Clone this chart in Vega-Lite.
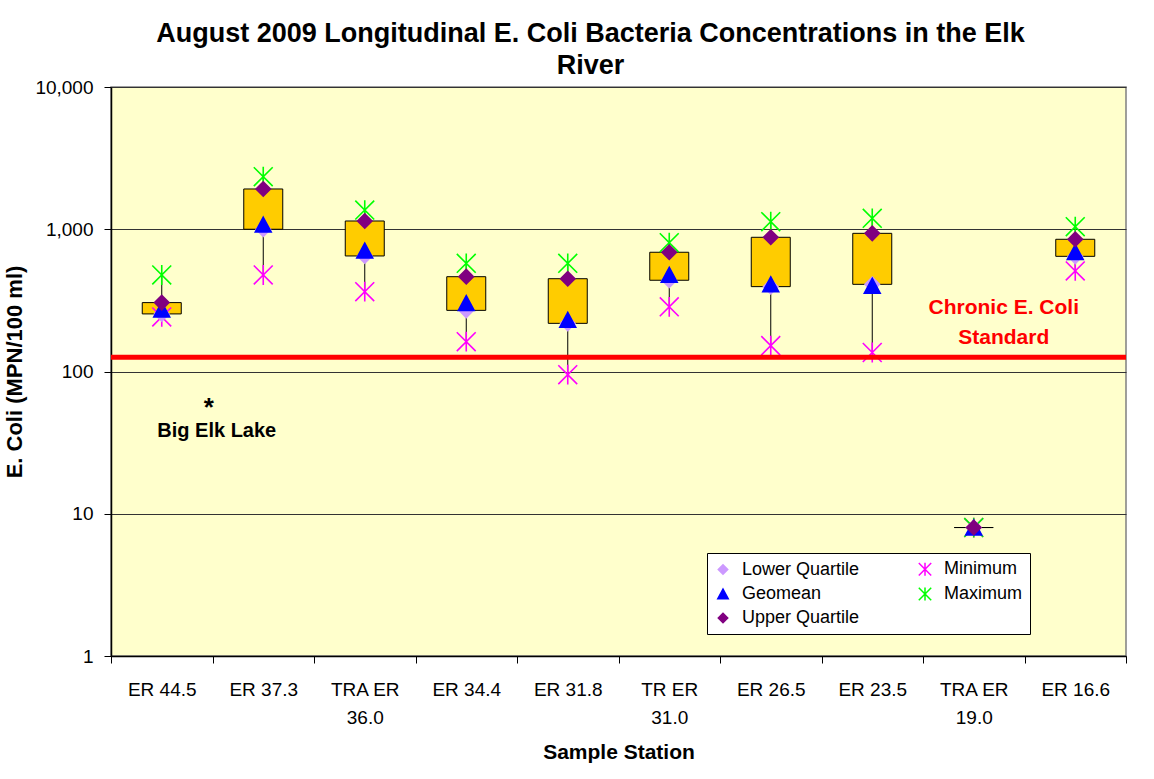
{
  "$schema": "https://vega.github.io/schema/vega-lite/v6.json",
  "width": 1015,
  "height": 569,
  "autosize": {"type": "none"},
  "padding": {"left": 111, "top": 87, "right": 28, "bottom": 123},
  "background": "white",
  "title": {
    "text": ["August 2009 Longitudinal E. Coli Bacteria Concentrations in the Elk", "River"],
    "font": "Liberation Sans",
    "fontSize": 27,
    "fontWeight": "bold",
    "color": "black",
    "anchor": "middle",
    "frame": "group",
    "dx": -28,
    "offset": -2,
    "lineHeight": 32
  },
  "config": {
    "font": "Liberation Sans",
    "view": {"fill": "#FFFFCC", "stroke": "#808080", "strokeWidth": 1.5},
    "axis": {
      "labelFont": "Liberation Sans",
      "labelFontSize": 19,
      "labelColor": "black",
      "titleFont": "Liberation Sans",
      "titleFontSize": 21,
      "titleFontWeight": "bold",
      "titleColor": "black",
      "domainColor": "black",
      "tickColor": "black"
    }
  },
  "datasets": {
    "stats": [
      {"station": "ER 44.5", "Minimum": 242, "Lower Quartile": 254, "Geomean": 272, "Upper Quartile": 305, "Maximum": 477},
      {"station": "ER 37.3", "Minimum": 477, "Lower Quartile": 1000, "Geomean": 1077, "Upper Quartile": 1919, "Maximum": 2340},
      {"station": "TRA ER 36.0", "Minimum": 364, "Lower Quartile": 649, "Geomean": 709, "Upper Quartile": 1143, "Maximum": 1365},
      {"station": "ER 34.4", "Minimum": 162, "Lower Quartile": 269, "Geomean": 303, "Upper Quartile": 464, "Maximum": 576},
      {"station": "ER 31.8", "Minimum": 95, "Lower Quartile": 218, "Geomean": 231, "Upper Quartile": 449, "Maximum": 576},
      {"station": "TR ER 31.0", "Minimum": 285, "Lower Quartile": 438, "Geomean": 479, "Upper Quartile": 689, "Maximum": 805},
      {"station": "ER 26.5", "Minimum": 152, "Lower Quartile": 395, "Geomean": 410, "Upper Quartile": 878, "Maximum": 1130},
      {"station": "ER 23.5", "Minimum": 136, "Lower Quartile": 410, "Geomean": 400, "Upper Quartile": 936, "Maximum": 1194},
      {"station": "TRA ER 19.0", "Minimum": 8, "Lower Quartile": 8, "Geomean": 8, "Upper Quartile": 8, "Maximum": 8},
      {"station": "ER 16.6", "Minimum": 509, "Lower Quartile": 645, "Geomean": 692, "Upper Quartile": 850, "Maximum": 1042}
    ],
    "standard": [{"std": 126}],
    "stdlabel": [{"station": "TRA ER 19.0", "value": 254, "label": "Chronic E. Coli\nStandard"}],
    "lakestar": [{"station": "ER 44.5", "value": 49, "label": "*"}],
    "lakelabel": [{"station": "ER 44.5", "value": 34.8, "label": "Big Elk Lake"}]
  },
  "layer": [
    {
      "data": {"name": "stats"},
      "mark": {"type": "rule", "color": "black", "strokeWidth": 1},
      "encoding": {
        "x": {
          "field": "station", "type": "nominal", "title": "Sample Station",
          "scale": {"type": "band", "domain": ["ER 44.5","ER 37.3","TRA ER 36.0","ER 34.4","ER 31.8","TR ER 31.0","ER 26.5","ER 23.5","TRA ER 19.0","ER 16.6"], "paddingInner": 0, "paddingOuter": 0},
          "axis": {
            "title": "Sample Station",
            "labelAngle": 0,
            "tickBand": "extent",
            "tickSize": 7,
            "labelPadding": 17,
            "labelLineHeight": 28,
            "titlePadding": 14,
            "domainWidth": 1.5,
            "labelExpr": "indexof(datum.label, 'TR') == 0 ? [slice(datum.label, 0, lastindexof(datum.label, ' ')), slice(datum.label, lastindexof(datum.label, ' ') + 1)] : datum.label"
          }
        },
        "y": {
          "field": "Minimum", "type": "quantitative", "title": "E. Coli (MPN/100 ml)",
          "scale": {"type": "log", "domain": [1, 10000], "nice": false},
          "axis": {
            "title": "E. Coli (MPN/100 ml)",
            "titleFontSize": 22,
            "values": [1, 10, 100, 1000, 10000],
            "format": ",",
            "tickSize": 7,
            "labelPadding": 11,
            "grid": true,
            "gridColor": "#333333",
            "gridWidth": 1,
            "titlePadding": 8,
            "domainWidth": 1.5
          }
        },
        "y2": {"field": "Maximum"}
      }
    },
    {
      "data": {"name": "stats"},
      "mark": {"type": "bar", "size": 39, "fill": "#FFCC00", "stroke": "black", "strokeWidth": 1},
      "encoding": {
        "x": {"field": "station", "type": "nominal", "title": "Sample Station", "scale": {"type": "band", "domain": ["ER 44.5","ER 37.3","TRA ER 36.0","ER 34.4","ER 31.8","TR ER 31.0","ER 26.5","ER 23.5","TRA ER 19.0","ER 16.6"], "paddingInner": 0, "paddingOuter": 0}},
        "y": {"field": "Lower Quartile", "type": "quantitative", "title": "E. Coli (MPN/100 ml)", "scale": {"type": "log", "domain": [1, 10000], "nice": false}},
        "y2": {"field": "Upper Quartile"}
      }
    },
    {
      "data": {"name": "stats"},
      "transform": [{"fold": ["Minimum", "Maximum", "Lower Quartile", "Geomean", "Upper Quartile"], "as": ["series", "value"]}],
      "mark": {"type": "point", "filled": true, "size": 324, "strokeWidth": 1.6, "opacity": 1},
      "encoding": {
        "x": {"field": "station", "type": "nominal", "title": "Sample Station", "scale": {"type": "band", "domain": ["ER 44.5","ER 37.3","TRA ER 36.0","ER 34.4","ER 31.8","TR ER 31.0","ER 26.5","ER 23.5","TRA ER 19.0","ER 16.6"], "paddingInner": 0, "paddingOuter": 0}},
        "y": {"field": "value", "type": "quantitative", "title": "E. Coli (MPN/100 ml)", "scale": {"type": "log", "domain": [1, 10000], "nice": false}},
        "shape": {
          "field": "series", "type": "nominal",
          "scale": {
            "domain": ["Lower Quartile", "Geomean", "Upper Quartile", "Minimum", "Maximum"],
            "range": [
              "M-0.8,0L0,-0.8L0.8,0L0,0.8Z",
              "M0,-0.82L0.88,0.82L-0.88,0.82Z",
              "M-0.8,0L0,-0.8L0.8,0L0,0.8Z",
              "M-1.05,-1.05L1.05,1.05M1.05,-1.05L-1.05,1.05M0,-1.1L0,1.1",
              "M-1.05,-1.05L1.05,1.05M1.05,-1.05L-1.05,1.05M0,-1.1L0,1.1"
            ]
          },
          "legend": {"title": null, "orient": "none", "legendX": 596, "legendY": 466, "columns": 2, "columnPadding": 55, "rowPadding": 5, "padding": 7, "fillColor": "white", "strokeColor": "black", "labelFont": "Liberation Sans", "labelFontSize": 18, "labelColor": "black", "labelOffset": 10, "symbolSize": 140, "symbolStrokeWidth": 1.5, "labelExpr": "datum.label == 'Maximum' ? 'Maximum\u00a0\u00a0\u00a0\u00a0\u00a0\u00a0\u00a0\u00a0\u00a0\u00a0\u00a0' : datum.label"}
        },
        "fill": {
          "field": "series", "type": "nominal",
          "scale": {"domain": ["Lower Quartile", "Geomean", "Upper Quartile", "Minimum", "Maximum"], "range": ["#CC99FF", "#0000FF", "#800080", "#FF00FF", "#00FF00"]},
          "legend": {"title": null, "orient": "none", "legendX": 596, "legendY": 466, "columns": 2, "columnPadding": 55, "rowPadding": 5, "padding": 7, "fillColor": "white", "strokeColor": "black", "labelFont": "Liberation Sans", "labelFontSize": 18, "labelColor": "black", "labelOffset": 10, "symbolSize": 140, "symbolStrokeWidth": 1.5, "labelExpr": "datum.label == 'Maximum' ? 'Maximum\u00a0\u00a0\u00a0\u00a0\u00a0\u00a0\u00a0\u00a0\u00a0\u00a0\u00a0' : datum.label"}
        },
        "stroke": {
          "field": "series", "type": "nominal",
          "scale": {"domain": ["Lower Quartile", "Geomean", "Upper Quartile", "Minimum", "Maximum"], "range": ["#CC99FF", "#0000FF", "#800080", "#FF00FF", "#00FF00"]},
          "legend": {"title": null, "orient": "none", "legendX": 596, "legendY": 466, "columns": 2, "columnPadding": 55, "rowPadding": 5, "padding": 7, "fillColor": "white", "strokeColor": "black", "labelFont": "Liberation Sans", "labelFontSize": 18, "labelColor": "black", "labelOffset": 10, "symbolSize": 140, "symbolStrokeWidth": 1.5, "labelExpr": "datum.label == 'Maximum' ? 'Maximum\u00a0\u00a0\u00a0\u00a0\u00a0\u00a0\u00a0\u00a0\u00a0\u00a0\u00a0' : datum.label"}
        }
      }
    },
    {
      "data": {"name": "standard"},
      "mark": {"type": "rule", "color": "#FF0000", "strokeWidth": 5},
      "encoding": {
        "y": {"field": "std", "type": "quantitative", "title": "E. Coli (MPN/100 ml)", "scale": {"type": "log", "domain": [1, 10000], "nice": false}}
      }
    },
    {
      "data": {"name": "stdlabel"},
      "mark": {"type": "text", "color": "#FF0000", "font": "Liberation Sans", "fontSize": 21, "fontWeight": "bold", "align": "center", "baseline": "alphabetic", "lineBreak": "\n", "lineHeight": 30, "dx": 30},
      "encoding": {
        "x": {"field": "station", "type": "nominal", "title": "Sample Station", "scale": {"type": "band", "domain": ["ER 44.5","ER 37.3","TRA ER 36.0","ER 34.4","ER 31.8","TR ER 31.0","ER 26.5","ER 23.5","TRA ER 19.0","ER 16.6"], "paddingInner": 0, "paddingOuter": 0}},
        "y": {"field": "value", "type": "quantitative", "title": "E. Coli (MPN/100 ml)", "scale": {"type": "log", "domain": [1, 10000], "nice": false}},
        "text": {"field": "label"}
      }
    },
    {
      "data": {"name": "lakestar"},
      "mark": {"type": "text", "color": "black", "font": "Liberation Sans", "fontSize": 26, "fontWeight": "bold", "align": "center", "baseline": "alphabetic", "dx": 47},
      "encoding": {
        "x": {"field": "station", "type": "nominal", "title": "Sample Station", "scale": {"type": "band", "domain": ["ER 44.5","ER 37.3","TRA ER 36.0","ER 34.4","ER 31.8","TR ER 31.0","ER 26.5","ER 23.5","TRA ER 19.0","ER 16.6"], "paddingInner": 0, "paddingOuter": 0}},
        "y": {"field": "value", "type": "quantitative", "title": "E. Coli (MPN/100 ml)", "scale": {"type": "log", "domain": [1, 10000], "nice": false}},
        "text": {"field": "label"}
      }
    },
    {
      "data": {"name": "lakelabel"},
      "mark": {"type": "text", "color": "black", "font": "Liberation Sans", "fontSize": 20, "fontWeight": "bold", "align": "center", "baseline": "alphabetic", "dx": 55},
      "encoding": {
        "x": {"field": "station", "type": "nominal", "title": "Sample Station", "scale": {"type": "band", "domain": ["ER 44.5","ER 37.3","TRA ER 36.0","ER 34.4","ER 31.8","TR ER 31.0","ER 26.5","ER 23.5","TRA ER 19.0","ER 16.6"], "paddingInner": 0, "paddingOuter": 0}},
        "y": {"field": "value", "type": "quantitative", "title": "E. Coli (MPN/100 ml)", "scale": {"type": "log", "domain": [1, 10000], "nice": false}},
        "text": {"field": "label"}
      }
    }
  ]
}
